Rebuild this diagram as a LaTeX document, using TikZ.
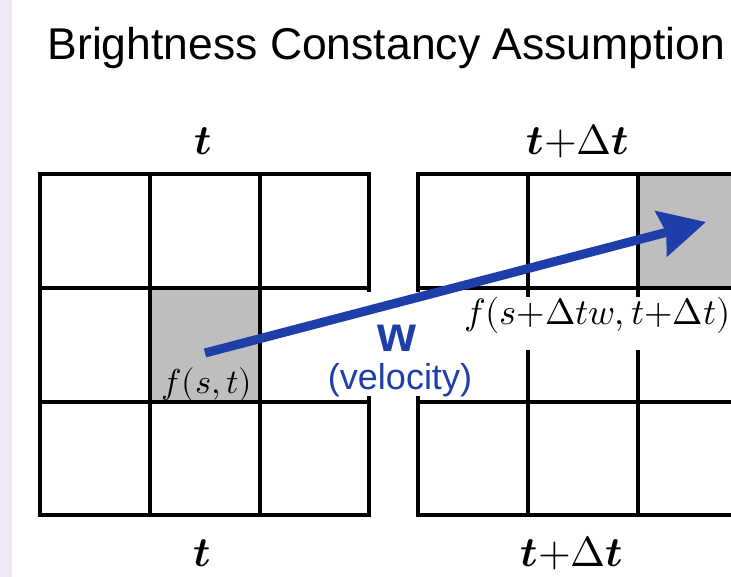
\documentclass[tikz,border=0pt]{standalone}
\usepackage{fontspec}
\usepackage{unicode-math}
\setmainfont{Liberation Sans}
\setmathfont{Latin Modern Math}
\usetikzlibrary{arrows.meta}
\definecolor{cellgray}{RGB}{190,190,190}
\definecolor{velblue}{RGB}{30,62,170}
\definecolor{edgelilac}{RGB}{238,232,244}

\begin{document}
\begin{tikzpicture}[x=1pt,y=-1pt,
    gridline/.style={line width=4pt, line cap=rect},
    timelbl/.style={anchor=base, font=\fontsize{42}{42}\selectfont},
    funclbl/.style={font=\fontsize{36.5}{36.5}\selectfont},
    velarrow/.style={velblue, line width=9pt, -{Stealth[length=46pt,width=46pt,inset=5pt]}}]

   % Page and left edge strip
    \clip (0,0) rectangle (731,577);
    \fill[white] (0,0) rectangle (731,577);
    \fill[edgelilac] (0,0) rectangle (12,577);

   % Title
    \node[anchor=base west, font=\fontsize{44.5}{44.5}\selectfont] (title) at (44,60) {Brightness Constancy Assumption};

   % Shaded pixels
    \fill[cellgray] (150,288) rectangle (260,402);
    \fill[cellgray] (638,174) rectangle (748,288);

   % Grid at time t
    \foreach \gx in {40,150,260,369} \draw[gridline] (\gx,174) -- (\gx,515);
    \foreach \gy in {174,288,402,515} \draw[gridline] (40,\gy) -- (369,\gy);

   % Grid at time t+dt
    \foreach \gx in {418,528,638,748} \draw[gridline] (\gx,174) -- (\gx,515);
    \foreach \gy in {174,288,402,515} \draw[gridline] (418,\gy) -- (748,\gy);

   % Time labels
    \node[timelbl] (tA) at (203,155) {$\symbfit{t}$};
    \node[timelbl] (tB) at (578,155) {$\symbfit{t}{+}\Delta\symbfit{t}$};
    \node[timelbl] (tC) at (202,566) {$\symbfit{t}$};
    \node[timelbl] (tD) at (572,566) {$\symbfit{t}{+}\Delta\symbfit{t}$};

   % Velocity label
    \node[anchor=base, fill=white, text=velblue, font=\fontsize{36}{36}\selectfont, minimum width=150pt, text height=97pt, text depth=7pt, inner sep=0pt] (vel) at (400,389) {(velocity)};
    \node[anchor=base, text=velblue, font=\fontsize{50}{50}\selectfont\bfseries] (w) at (397,352) {w};

   % Pixel values
    \node[anchor=base, font=\fontsize{34.5}{34.5}\selectfont] (fst) at (207,393) {$f(s,t)$};
    \node[funclbl, anchor=base west, fill=white, inner xsep=3pt, inner ysep=0pt, text depth=26pt] (fmoved) at (461,324) {$f(s{+}\Delta t w,t{+}\Delta t)$};

   % Motion of the pixel
    \coordinate (src) at (205,353);
    \coordinate (dst) at (706,222);
    \draw[velarrow] (src) -- (dst);

  \end{tikzpicture}
\end{document}
